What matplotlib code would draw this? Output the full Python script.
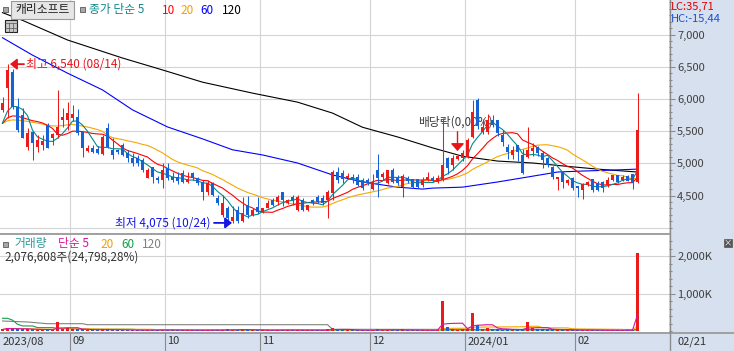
import numpy as np
import pandas as pd
import matplotlib.pyplot as plt
from matplotlib.lines import Line2D
from matplotlib.patches import Rectangle
from matplotlib.ticker import FixedLocator, FuncFormatter
import matplotlib.transforms as mtransforms

plt.rcParams['font.family'] = ['Noto Sans CJK KR', 'DejaVu Sans']

# daily candles, 2023-08-11 .. 2024-02-21
opens = [5830, 6170, 6420, 5870, 5750, 5250, 5490, 5250, 5280, 5600,
         5390, 5440, 5670, 5670, 5700, 5720, 5490, 5190, 5240, 5230,
         5150, 5550, 5210, 5200, 5290, 5160, 5080, 5080, 5050, 4770,
         4940, 4770, 4740, 4930, 4790, 4790, 4850, 4710, 4850, 4770,
         4710, 4550, 4690, 4460, 4200, 4300, 4100, 4270, 4110, 4350,
         4200, 4320, 4240, 4310, 4430, 4400, 4550, 4380, 4480, 4270,
         4430, 4270, 4430, 4480, 4460, 4430, 4540, 4860, 4850, 4770,
         4790, 4790, 4740, 4740, 4600, 4900, 4780, 4690, 4900, 4770,
         4630, 4770, 4750, 4750, 4660, 4740, 4770, 4710, 4740, 5080,
         4970, 5070, 5080, 5100, 5410, 5980, 5490, 5490, 5670, 5670,
         5440, 5250, 5130, 5280, 5130, 5100, 5190, 5250, 5160, 5080,
         4940, 4760, 4870, 4690, 4770, 4650, 4590, 4660, 4750, 4690,
         4710, 4660, 4740, 4820, 4740, 4800, 4830, 4710]
highs = [6030, 6540, 6470, 6010, 5860, 5550, 5500, 5440, 5440, 5620,
         5470, 6140, 5860, 5950, 5900, 5840, 5500, 5280, 5290, 5270,
         5440, 5620, 5400, 5220, 5320, 5210, 5160, 5130, 5080, 4930,
         4940, 4810, 5000, 5000, 4860, 4860, 4890, 4860, 4870, 4790,
         4740, 4740, 4710, 4510, 4510, 4330, 4340, 4340, 4480, 4500,
         4310, 4480, 4310, 4430, 4460, 4510, 4560, 4450, 4510, 4510,
         4460, 4360, 4450, 4510, 4510, 4580, 4900, 4940, 4900, 4850,
         4830, 4830, 4770, 4770, 4840, 5150, 4870, 4900, 4930, 4820,
         4830, 4810, 4760, 4760, 4790, 4860, 4810, 4820, 5700, 5100,
         5130, 5130, 5200, 5400, 5990, 6010, 5690, 5760, 5750, 5680,
         5520, 5300, 5270, 5290, 5220, 5560, 5320, 5270, 5190, 5100,
         4960, 4790, 4880, 4760, 4790, 4650, 4700, 4730, 4760, 4720,
         4730, 4790, 4820, 4820, 4820, 4820, 4840, 6090]
lows = [5800, 5700, 5850, 5490, 5390, 5210, 5050, 5180, 5210, 5240,
        5280, 5400, 5560, 5520, 5650, 5440, 5100, 5180, 5160, 5150,
        5130, 5240, 5070, 5140, 5110, 5020, 4960, 4960, 4870, 4770,
        4690, 4690, 4620, 4740, 4710, 4680, 4690, 4690, 4740, 4660,
        4430, 4510, 4500, 4350, 4160, 4120, 4075, 4080, 4090, 4150,
        4180, 4220, 4230, 4300, 4330, 4350, 4330, 4370, 4350, 4260,
        4260, 4260, 4350, 4380, 4350, 4150, 4430, 4700, 4700, 4760,
        4700, 4650, 4590, 4660, 4590, 4480, 4740, 4680, 4690, 4670,
        4470, 4690, 4620, 4620, 4640, 4720, 4710, 4700, 4730, 4840,
        4900, 5050, 5040, 5080, 5390, 5540, 5450, 5450, 5560, 5430,
        5270, 5070, 5070, 5030, 4840, 5090, 5110, 5110, 4920, 4940,
        4750, 4590, 4620, 4660, 4590, 4480, 4440, 4650, 4560, 4570,
        4560, 4630, 4720, 4700, 4720, 4720, 4600, 4690]
closes = [5940, 6450, 5880, 5520, 5390, 5470, 5310, 5360, 5340, 5240,
          5450, 5560, 5720, 5780, 5760, 5470, 5240, 5240, 5180, 5160,
          5410, 5250, 5130, 5180, 5130, 5080, 5000, 5000, 4900, 4900,
          4790, 4740, 4900, 4770, 4740, 4720, 4710, 4760, 4770, 4690,
          4550, 4690, 4510, 4380, 4380, 4150, 4170, 4100, 4230, 4200,
          4270, 4240, 4300, 4380, 4350, 4480, 4430, 4430, 4430, 4480,
          4270, 4350, 4380, 4400, 4380, 4550, 4860, 4740, 4760, 4800,
          4740, 4660, 4620, 4690, 4710, 4770, 4830, 4900, 4710, 4690,
          4800, 4720, 4630, 4630, 4740, 4790, 4720, 4770, 4970, 4930,
          5080, 5110, 5160, 5360, 5800, 5580, 5560, 5670, 5600, 5470,
          5330, 5180, 5210, 5180, 4850, 5210, 5240, 5160, 5050, 4970,
          4790, 4790, 4710, 4740, 4620, 4620, 4680, 4710, 4590, 4590,
          4620, 4740, 4820, 4710, 4790, 4730, 4690, 5520]
# closes before the window (needed by the 5/10/20 day averages)
pre_closes = [5650, 5600, 5620, 5580, 5640, 5600, 5610, 5630, 5620, 5650,
              5600, 5580, 5560, 5620, 5700, 5550, 5500, 5560, 5600]

# long averages (candle index, price)
ma60_idx = [0, 6, 13, 20, 26, 33, 40, 46, 52, 59, 66, 72, 79, 84, 86, 92,
            99, 106, 111, 116, 122, 127]
ma60_val = [6950, 6680, 6400, 6140, 5830, 5565, 5380, 5210, 5130, 5005,
            4820, 4710, 4630, 4600, 4615, 4630, 4710, 4800, 4865, 4880,
            4895, 4910]
ma120_idx = [0, 4, 13, 24, 32, 40, 50, 59, 66, 72, 79, 86, 92, 99, 106,
             112, 119, 127]
ma120_val = [7340, 7220, 6915, 6635, 6450, 6260, 6090, 5950, 5780, 5560,
             5410, 5240, 5110, 5035, 5005, 4960, 4910, 4865]

# volume, thousand shares
volume_k = [40, 90, 65, 55, 45, 45, 40, 35, 30, 45,
            30, 240, 45, 70, 45, 45, 40, 30, 25, 25,
            45, 40, 30, 20, 30, 25, 25, 20, 30, 25,
            30, 20, 35, 25, 20, 20, 20, 20, 20, 20,
            30, 20, 25, 20, 30, 40, 35, 30, 50, 30,
            20, 25, 20, 25, 20, 30, 35, 20, 25, 30,
            30, 20, 20, 20, 20, 40, 80, 40, 30, 20,
            20, 25, 25, 20, 25, 50, 25, 35, 30, 20,
            40, 20, 25, 20, 25, 25, 20, 25, 800, 110,
            60, 35, 40, 60, 480, 160, 60, 80, 50, 60,
            35, 40, 30, 35, 50, 240, 70, 50, 40, 45,
            40, 30, 25, 25, 30, 25, 30, 20, 25, 20,
            20, 20, 20, 20, 20, 20, 30, 2076.608]
vma60_idx = [0, 1, 2, 3, 4, 6, 7, 10, 11, 13, 16, 26, 28, 127]
vma60_val = [340, 340, 290, 180, 135, 135, 90, 90, 72, 72, 45, 45, 27, 27]
vma120_idx = [0, 5, 9, 16, 17, 65, 66, 127]
vma120_val = [267, 241, 195, 195, 168, 168, 45, 40]

month_labels = ['2023/08', '09', '10', '11', '12', '2024/01', '02']
month_start = [0, 14, 33, 52, 74, 93, 115]
hi_date, lo_date = '08/14', '10/24'
ex_div_idx = 91

RED = '#ec1b1b'
BLUE = '#1662d2'
STRIP = '#d6e0ee'
GRID = '#d4d4d4'
W, H = 734, 351


def fx(px):
    return px / W


def fy(py):
    return 1 - py / H


o = np.array(opens, float)
h = np.array(highs, float)
l = np.array(lows, float)
c = np.array(closes, float)
vol = np.array(volume_k) * 1000
idx = np.arange(len(c))
up = c >= o
col = np.where(up, RED, BLUE)

allc = pd.Series(pre_closes + closes, dtype=float)
n_pre = len(pre_closes)
ma5 = allc.rolling(5).mean().values[n_pre:]
ma10 = allc.rolling(10).mean().values[n_pre:]
ma20 = allc.rolling(20).mean().values[n_pre:]
vs = pd.Series(vol)
vma5 = vs.rolling(5, min_periods=1).mean().values
vma20 = vs.rolling(20, min_periods=1).mean().values

fig = plt.figure(figsize=(W / 100, H / 100), dpi=100, facecolor=STRIP)
ax = fig.add_axes([0, fy(233), fx(669), 233 / H])
axv = fig.add_axes([0, fy(332), fx(669), 98 / H])

for a in (ax, axv):
    a.set_facecolor('white')
    for s in a.spines.values():
        s.set_visible(False)
    a.set_xlim(-0.5, -0.5 + 669 / 5)
    a.set_xticks([])
    a.yaxis.tick_right()
    a.tick_params(axis='y', which='major', direction='out', length=4.3,
                  width=0.75, color='#8a8a8a', pad=1.5, labelsize=8,
                  labelcolor='#404040')
    a.tick_params(axis='y', which='minor', direction='out', length=2.2,
                  width=0.75, color='#8a8a8a')
    for m in month_start[1:]:
        a.axvline(m - 0.5, color=GRID, lw=0.8, zorder=0)

# price panel
ax.set_ylim(3918, 7536)
ax.yaxis.set_major_locator(FixedLocator(np.arange(4500, 7001, 500)))
ax.yaxis.set_minor_locator(FixedLocator(np.arange(4000, 7501, 100)))
ax.yaxis.set_major_formatter(FuncFormatter(lambda v, _: f'{int(v):,}'))
for lv in range(4000, 7001, 500):
    ax.axhline(lv, color=GRID, lw=0.8, zorder=0)

ax.plot(ma120_idx, ma120_val, color='black', lw=0.8, zorder=2)
ax.plot(ma60_idx, ma60_val, color='#0000ff', lw=0.8, zorder=2)
ax.plot(idx, ma20, color='#f5a800', lw=0.8, zorder=2)
ax.plot(idx, ma10, color='#ff0000', lw=0.8, zorder=2)
ax.plot(idx, ma5, color='#008b8b', lw=0.8, zorder=2)

ax.vlines(idx, l, h, colors=col, lw=0.75, zorder=3)
ax.bar(idx, np.maximum(np.abs(c - o), 12), bottom=np.minimum(o, c),
       width=0.62, color=col, linewidth=0, zorder=3)

# high / low / ex-dividend marks
i_hi = int(np.argmax(h))
i_lo = int(np.argmin(l))
ax.annotate('', xy=(i_hi + 0.5, h[i_hi]), xytext=(i_hi + 3.3, h[i_hi]),
            arrowprops=dict(arrowstyle='-|>,head_length=0.4,head_width=0.32',
                            color='#e8141a', lw=1.3, mutation_scale=10,
                            shrinkA=0, shrinkB=0), zorder=5)
ax.text(i_hi + 3.6, h[i_hi], f'최고 {int(h[i_hi]):,} ({hi_date})',
        color='#e8141a', fontsize=8.5, va='center', ha='left', zorder=5)
ax.annotate('', xy=(i_lo - 0.1, l[i_lo]), xytext=(i_lo - 3.7, l[i_lo]),
            arrowprops=dict(arrowstyle='-|>,head_length=0.4,head_width=0.32',
                            color='#1414e6', lw=1.3, mutation_scale=10,
                            shrinkA=0, shrinkB=0), zorder=5)
ax.text(i_lo - 4.4, l[i_lo], f'최저 {int(l[i_lo]):,} ({lo_date})',
        color='#1414e6', fontsize=8.5, va='center', ha='right', zorder=5)
ax.text(ex_div_idx - 7.9, h[ex_div_idx] + 510, '배당락(0,00%)',
        color='#3c3c3c', fontsize=8.5, va='center', ha='left', zorder=1)
ax.annotate('', xy=(ex_div_idx, h[ex_div_idx] + 60),
            xytext=(ex_div_idx, h[ex_div_idx] + 360),
            arrowprops=dict(arrowstyle='-|>,head_length=0.45,head_width=0.4',
                            color='#e8141a', lw=1.0, mutation_scale=10,
                            shrinkA=0, shrinkB=0), zorder=4)

# volume panel
axv.set_ylim(-27e3, 2594e3)
axv.yaxis.set_major_locator(FixedLocator([1e6, 2e6]))
axv.yaxis.set_minor_locator(FixedLocator(np.arange(0, 2600e3, 200e3)))
axv.yaxis.set_major_formatter(FuncFormatter(lambda v, _: f'{int(v / 1000):,}K'))
for lv in (1e6, 2e6):
    axv.axhline(lv, color=GRID, lw=0.8, zorder=0)
axv.plot(vma120_idx, np.array(vma120_val) * 1000, color='#808080', lw=0.8, zorder=2)
axv.plot(vma60_idx, np.array(vma60_val) * 1000, color='#12a04a', lw=0.8, zorder=2)
axv.plot(idx, vma20, color='#f5a800', lw=0.8, zorder=2)
axv.bar(idx, vol, width=0.62, color=col, linewidth=0, zorder=3)
axv.plot(idx, vma5, color='#d4159e', lw=0.8, zorder=4)

# frame lines
fig.add_artist(Line2D([0, fx(669)], [fy(233.5), fy(233.5)], color='#a0a0a0', lw=1.4))
fig.add_artist(Line2D([0, 1], [fy(332.5), fy(332.5)], color='#a0a0a0', lw=1.4))
fig.add_artist(Line2D([fx(669.5), fx(669.5)], [0, 1], color='#8c8c8c', lw=1.0))
dtr = mtransforms.blended_transform_factory(axv.transData, fig.transFigure)
for m, lab in zip(month_start, month_labels):
    if m > 0:
        fig.add_artist(Line2D([m - 0.5, m - 0.5], [0, fy(333)], color='#8c8c8c',
                              lw=0.8, transform=dtr))
    fig.text(m - 0.5 + 0.5, fy(341.5), lab, transform=dtr, fontsize=8,
             color='#333333', va='center', ha='left')
fig.text(fx(678), fy(341.5), '02/21', fontsize=8, color='#333333',
         va='center', ha='left')

# price legend row
fig.add_artist(Rectangle((fx(3), fy(12)), fx(5), 5 / H, facecolor='#a8a8a8',
                         edgecolor='#6a6a6a', lw=0.7, transform=fig.transFigure))
fig.add_artist(Rectangle((fx(11), fy(19)), fx(63), 18 / H, facecolor='#e6e6e6',
                         edgecolor='#9a9a9a', lw=0.8, transform=fig.transFigure))
fig.text(fx(42.5), fy(10), '캐리소프트', fontsize=8.5, color='#202020',
         va='center', ha='center')
fig.add_artist(Rectangle((fx(80), fy(12)), fx(5), 5 / H, facecolor='#a8a8a8',
                         edgecolor='#6a6a6a', lw=0.7, transform=fig.transFigure))
for x0, s, cc in [(89, '종가 단순 5', '#0b8a8a'), (162, '10', '#ff0000'),
                  (180, '20', '#f0a000'), (200, '60', '#0000ff'),
                  (222, '120', '#000000')]:
    fig.text(fx(x0), fy(10), s, fontsize=8.5, color=cc, va='center', ha='left')

# small table icon
fig.add_artist(Rectangle((fx(5), fy(32)), fx(12), 12 / H, facecolor='#c8c8c8',
                         edgecolor='#222222', lw=0.8, transform=fig.transFigure))
for gx in (9, 13):
    fig.add_artist(Line2D([fx(gx), fx(gx)], [fy(23), fy(32)], color='#555555', lw=0.5))
for gy in (23, 27.5):
    fig.add_artist(Line2D([fx(5), fx(17)], [fy(gy), fy(gy)], color='#555555', lw=0.5))

fig.text(fx(671), fy(6.5), 'LC:35,71', fontsize=8, color='#e00000', va='center', ha='left')
fig.text(fx(671), fy(18.5), 'HC:-15,44', fontsize=8, color='#1a50d0', va='center', ha='left')

# volume legend row
fig.add_artist(Rectangle((fx(3), fy(247)), fx(5), 5 / H, facecolor='#a8a8a8',
                         edgecolor='#6a6a6a', lw=0.7, transform=fig.transFigure))
for x0, s, cc in [(14, '거래량', '#2a9a9a'), (58, '단순 5', '#d4159e'),
                  (100, '20', '#f0a000'), (121, '60', '#12a04a'),
                  (142, '120', '#808080')]:
    fig.text(fx(x0), fy(244), s, fontsize=8.5, color=cc, va='center', ha='left')
fig.text(fx(4), fy(257), f'{int(round(vol[-1])):,}주(24,798,28%)', fontsize=8.5,
         color='#333333', va='center', ha='left')

fig.add_artist(Rectangle((fx(724), fy(247)), fx(8), 8 / H, facecolor='#555555',
                         edgecolor='#555555', lw=0.5, transform=fig.transFigure))
fig.text(fx(728), fy(243), '×', fontsize=6, color='white', va='center', ha='center')

fig.savefig('out.png', dpi=100, facecolor=fig.get_facecolor())
